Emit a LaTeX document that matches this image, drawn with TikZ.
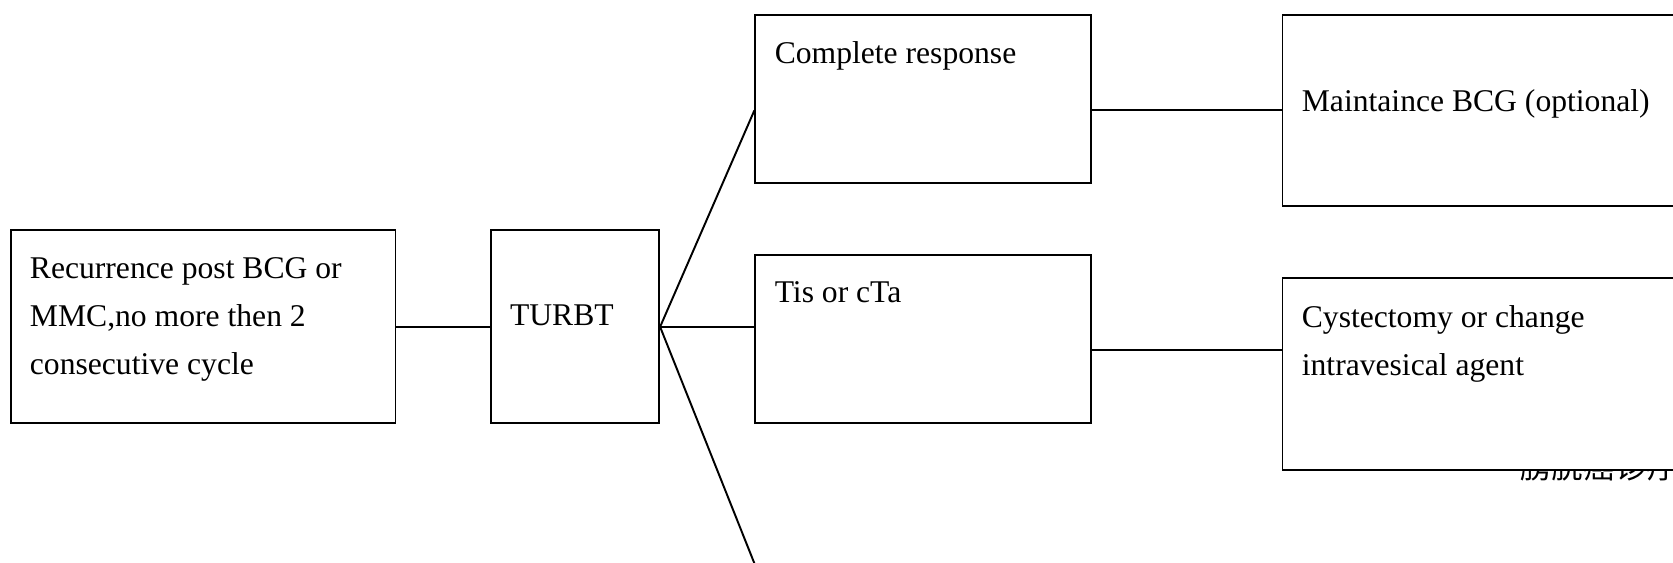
\documentclass[tikz,border=0pt]{standalone}
\usepackage{fontspec}
\setmainfont{Liberation Serif}
\newfontfamily\cjk{Noto Sans CJK SC}
\usepackage{tikz}
\usetikzlibrary{positioning, calc}

\begin{document}
\begin{tikzpicture}[
    x=0.02cm, y=-0.02cm,
    box/.style={rectangle, draw, fill=white, line width=1.1pt, anchor=north west, inner sep=0pt},
    txt/.style={align=left, inner sep=0pt, font=\fontsize{18pt}{27.3pt}\selectfont},
    link/.style={line width=1.1pt}
]
    \clip (0,0) rectangle (1673,563);
    \fill[white] (0,0) rectangle (1673,563);

    % text that the last box partly covers
    \node[inner sep=0pt, anchor=base west, font=\fontsize{18pt}{18pt}\cjk] (src) at (1520,479) {膀胱癌诊疗};

    \node[box, minimum width=7.70cm, minimum height=3.86cm] (rec) at (9.6,229.4) {};
    \node[box, minimum width=3.37cm, minimum height=3.86cm] (turbt) at (489.7,229.4) {};
    \node[box, minimum width=6.72cm, minimum height=3.37cm] (cr) at (754.4,13.9) {};
    \node[box, minimum width=6.72cm, minimum height=3.37cm] (tis) at (754.4,254) {};
    \node[box, minimum width=10cm, minimum height=3.82cm] (maint) at (1281.5,13.9) {};
    \node[box, minimum width=10cm, minimum height=3.84cm] (cyst) at (1281.5,277.4) {};

    \node[txt, below right=0.55cm and 0.4cm of rec.north west] (rectxt) {Recurrence post BCG or\\MMC,no more then 2\\consecutive cycle};
    \node[txt, below right=1.51cm and 0.4cm of turbt.north west] (turbttxt) {TURBT};
    \node[txt, below right=0.55cm and 0.4cm of cr.north west] (crtxt) {Complete response};
    \node[txt, below right=0.55cm and 0.4cm of tis.north west] (tistxt) {Tis or cTa};
    \node[txt, below right=1.51cm and 0.4cm of maint.north west] (mainttxt) {Maintaince BCG (optional)};
    \node[txt, below right=0.55cm and 0.4cm of cyst.north west] (cysttxt) {Cystectomy or change\\intravesical agent};

    \coordinate (nxt) at (754.4,563.4);
    \coordinate (tisout) at ([yshift=-0.214cm]tis.east);

    \draw[link] (rec.east) -- (turbt.west);
    \draw[link] (turbt.east) -- (cr.west |- maint.west);
    \draw[link] (turbt.east) -- (turbt.east -| tis.west);
    \draw[link] (turbt.east) -- (nxt);
    \draw[link] (cr.east |- maint.west) -- (maint.west);
    \draw[link] (tisout) -- (tisout -| cyst.west);
\end{tikzpicture}
\end{document}
